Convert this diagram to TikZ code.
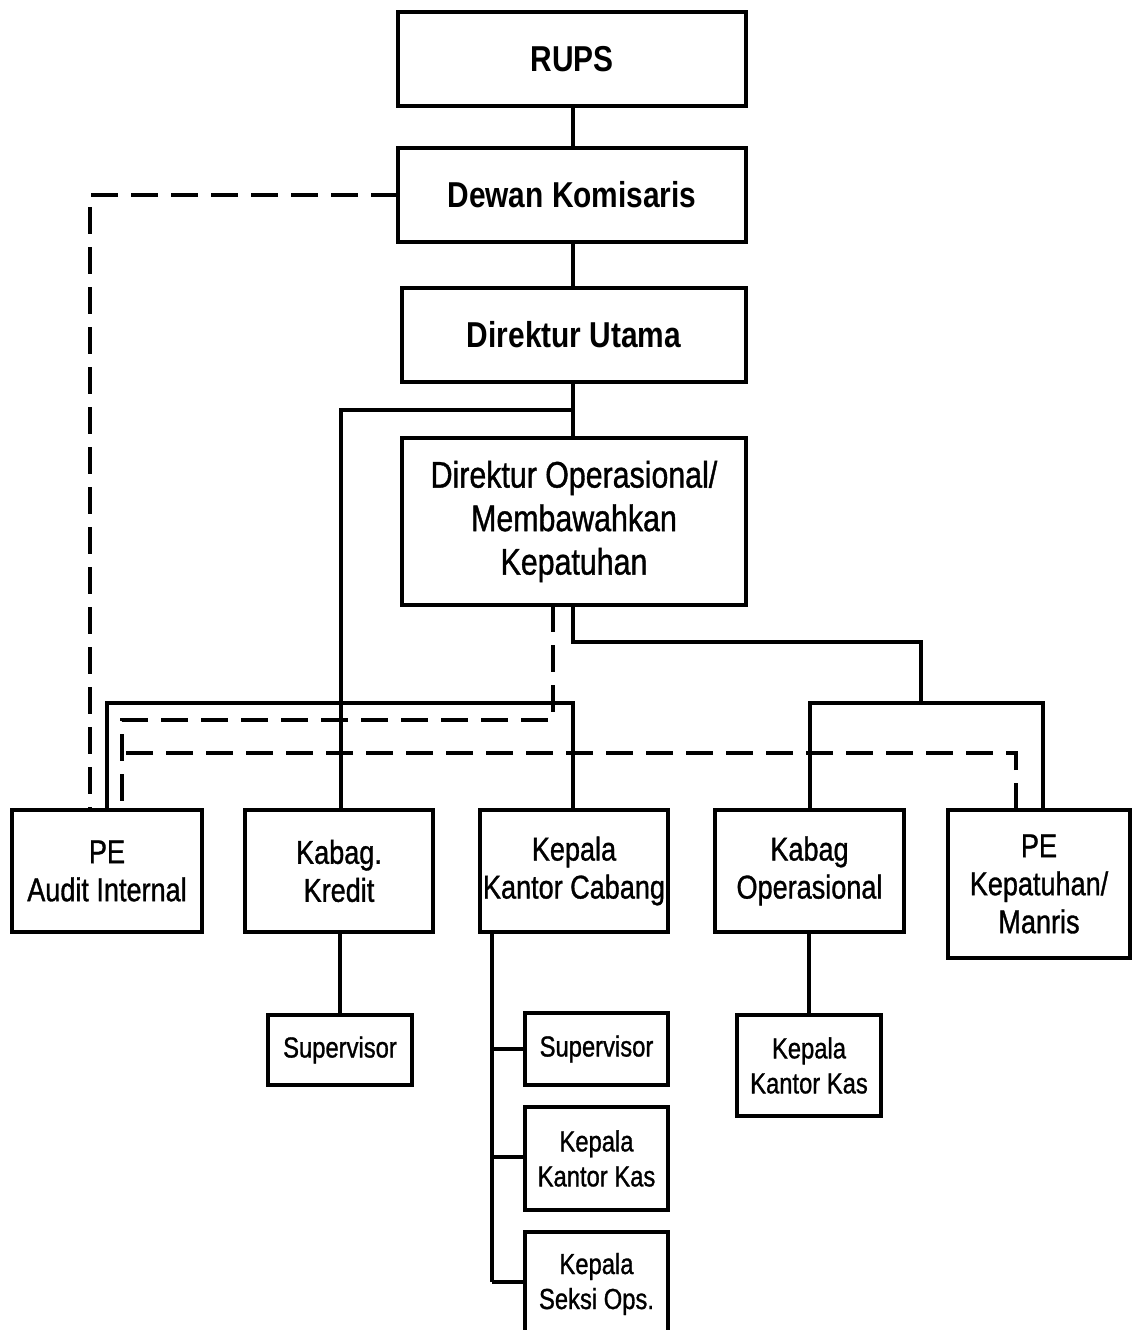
\documentclass[tikz,border=0pt]{standalone}
\usepackage{fontspec}
\setmainfont{Liberation Sans}
\newfontfamily\narfont[FakeStretch=0.82,FakeBold=1]{Liberation Sans}
\newfontfamily\narbold[FakeStretch=0.83]{Liberation Sans}
\begin{document}
\begin{tikzpicture}[x=1pt,y=-1pt,
  box/.style={draw, line width=4pt, fill=white, align=center, inner sep=0pt},
  topbox/.style={box, font=\narbold\bfseries\fontsize{36}{42}\selectfont},
  midbox/.style={box, font=\narfont\fontsize{33}{38}\selectfont},
  smallbox/.style={box, font=\narfont\fontsize{29}{35}\selectfont},
  conn/.style={line width=3.3pt},
  dashconn/.style={line width=3.3pt, dash pattern=on 27pt off 13pt}]
\clip (0,0) rectangle (1132,1330);
\fill[white] (0,0) rectangle (1132,1330);

% coordinates
\coordinate (j1) at (573,410);
\coordinate (j2) at (573,642);
\coordinate (j3) at (921,703);
\coordinate (j4) at (1043,703);
\coordinate (b2) at (573,703);
\coordinate (kx) at (341,410);
\coordinate (tk) at (492,1282);
\coordinate (d1) at (90,195);
\coordinate (d2) at (553,720);
\coordinate (d3) at (122,720);
\coordinate (d4) at (1016,753);
\coordinate (d5) at (122,753);

% connectors (drawn first, boxes on top)
\draw[conn] (573,59) -- (573,195);
\draw[conn] (573,195) -- (573,335);
\draw[conn] (573,335) -- (573,521);
\draw[conn] (j1) -- (kx) -- (341,810);
\draw[conn] (573,521) -- (j2) -| (j3);
\draw[conn] (810,810) |- (j4) -- (1043,810);
\draw[conn] (107,810) |- (b2) -- (573,810);
\draw[conn] (340,871) -- (340,1050);
\draw[conn] (809,871) -- (809,1065);
\draw[conn] (492,932) -- (tk);
\draw[conn] (492,1049) -- (560,1049);
\draw[conn] (492,1157) -- (560,1157);
\draw[conn] (tk) -- (560,1282);

\draw[dashconn] (398,195) -- (d1) -- (90,810);
\draw[dashconn] (553,605) -- (d2) -- (d3) -- (122,810);
\draw[dashconn] (1016,810) -- (d4) -- (d5);

% nodes
\node[topbox, minimum width=348, minimum height=94] (rups) at (572,59) {RUPS};
\node[topbox, minimum width=348, minimum height=94] (dewan) at (572,195) {Dewan Komisaris};
\node[topbox, minimum width=344, minimum height=94] (dirut) at (574,335) {Direktur Utama};
\node[box, font=\narfont\fontsize{37}{43.5}\selectfont, minimum width=344, minimum height=167] (dirop) at (574,521.5) {Direktur Operasional/\\Membawahkan\\Kepatuhan};
\node[midbox, minimum width=190, minimum height=122] (audit) at (107,871) {PE\\Audit Internal};
\node[midbox, minimum width=188, minimum height=122] (kredit) at (339,871) {Kabag.\\Kredit};
\node[midbox, minimum width=188, minimum height=122] (kcab) at (574,871) {Kepala\\Kantor Cabang};
\node[midbox, minimum width=189, minimum height=122] (kabop) at (809.5,871) {Kabag\\Operasional};
\node[midbox, minimum width=182, minimum height=148] (kepat) at (1039,884) {PE\\Kepatuhan/\\Manris};
\node[smallbox, minimum width=144, minimum height=70] (sup1) at (340,1050) {Supervisor};
\node[smallbox, minimum width=143, minimum height=72] (sup2) at (596.5,1049) {Supervisor};
\node[smallbox, minimum width=143, minimum height=103] (kas1) at (596.5,1158.5) {Kepala\\Kantor Kas};
\node[smallbox, minimum width=143, minimum height=104] (seksi) at (596.5,1284) {Kepala\\Seksi Ops.};
\node[smallbox, minimum width=144, minimum height=101] (kas2) at (809,1065.5) {Kepala\\Kantor Kas};
\end{tikzpicture}
\end{document}
